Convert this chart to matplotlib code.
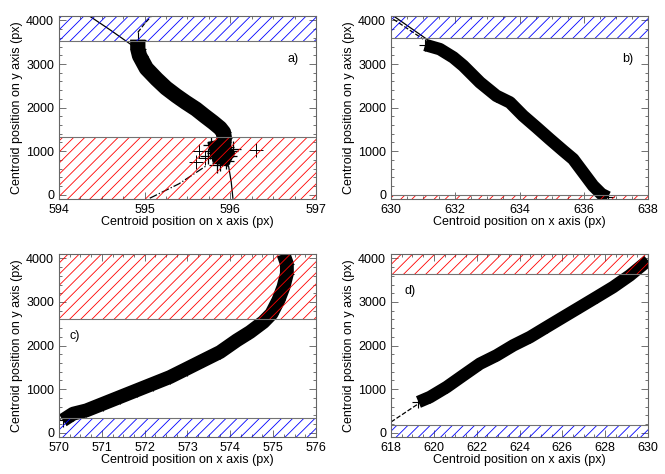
import matplotlib
matplotlib.use("Agg")
import matplotlib.pyplot as plt
from matplotlib.ticker import AutoMinorLocator, MultipleLocator

plt.rcParams['font.family'] = ['Liberation Sans', 'DejaVu Sans']
plt.rcParams['font.size'] = 9
plt.rcParams['hatch.linewidth'] = 0.6

# ---------------- data ----------------
# panel a)
a_x = [594.92, 594.92, 594.94, 595.02, 595.14, 595.25, 595.37, 595.48, 595.60, 595.70, 595.80, 595.88, 595.92, 595.93, 595.92, 595.88, 595.86]
a_y = [3560, 3350, 3190, 2900, 2654, 2450, 2271, 2120, 1966, 1810, 1660, 1530, 1430, 1300, 1124, 1000, 900]
a_blob_x = [595.78, 595.85, 595.95, 596.00, 595.82, 595.90, 595.98, 595.76, 595.88, 595.95, 595.84, 595.92, 596.03, 595.74]
a_blob_y = [1150, 1050, 1100, 1000, 950, 850, 900, 1000, 720, 780, 680, 1220, 1050, 880]
a_out_x = [596.30, 595.60, 595.64, 595.70]
a_out_y = [1020, 760, 1010, 850]
a_fit_top_x = [594.34, 594.60, 594.85]
a_fit_top_y = [4122, 3780, 3434]
a_fit_bot_x = [595.98, 596.01, 596.03]
a_fit_bot_y = [650, 300, -80]
a_dash_top_x = [594.92, 595.00, 595.10]
a_dash_top_y = [3725, 3930, 4145]
a_dash_bot_x = [595.06, 595.40, 595.72]
a_dash_bot_y = [-80, 250, 665]

# panel b)
b_x = [631.06, 631.52, 631.94, 632.25, 632.77, 633.28, 633.70, 634.11, 634.53, 634.94, 635.36, 635.67, 635.98, 636.29, 636.55, 636.75]
b_y = [3440, 3342, 3151, 2960, 2577, 2271, 2119, 1813, 1545, 1277, 1010, 818, 512, 206, 15, -60]
b_fit1_x = [630.07, 631.11]
b_fit1_y = [4107, 3572]
b_fit2_x = [630.07, 631.00]
b_fit2_y = [4030, 3572]

# panel c)
c_x = [570.09, 570.33, 570.64, 571.03, 571.42, 571.81, 572.20, 572.59, 572.98, 573.37, 573.76, 574.15, 574.46, 574.77, 574.96, 575.12, 575.24, 575.32, 575.32, 575.24]
c_y = [283, 436, 512, 665, 818, 971, 1124, 1277, 1468, 1660, 1851, 2119, 2310, 2539, 2730, 3036, 3342, 3648, 3877, 4100]
c_fit_x = [570.0, 570.3]
c_fit_y = [300, 440]

# panel d)
d_x = [619.28, 619.82, 620.60, 621.37, 622.15, 622.93, 623.71, 624.49, 625.26, 626.04, 626.82, 627.60, 628.37, 629.15, 630.00]
d_y = [704, 818, 1048, 1315, 1583, 1774, 2004, 2195, 2424, 2654, 2883, 3113, 3342, 3610, 3954]
d_fit_x = [618.0, 619.28]
d_fit_y = [245, 665]

# hatched bands (ymin, ymax)
a_blue = (3520, 4100)
a_red = (-100, 1330)
b_blue = (3590, 4100)
b_red = (-100, -15)
c_red = (2620, 4100)
c_blue = (-100, 330)
d_red = (3650, 4100)
d_blue = (-100, 170)

# ---------------- plotting ----------------
fig = plt.figure(figsize=(6.65, 4.74), dpi=100)
pos = {'a': [0.0887, 0.580, 0.3865, 0.386],
       'b': [0.588, 0.580, 0.3865, 0.386],
       'c': [0.0887, 0.078, 0.3865, 0.386],
       'd': [0.588, 0.078, 0.3865, 0.386]}


def setup(ax, xlim, xstep):
    ax.set_xlim(*xlim)
    ax.set_ylim(-100, 4100)
    ax.xaxis.set_major_locator(MultipleLocator(xstep))
    ax.yaxis.set_major_locator(MultipleLocator(1000))
    ax.xaxis.set_minor_locator(AutoMinorLocator(4))
    ax.yaxis.set_minor_locator(AutoMinorLocator(5))
    ax.tick_params(which='both', direction='in', top=True, right=True, color='0.35', width=0.6)
    ax.tick_params(which='major', length=5)
    ax.tick_params(which='minor', length=2.5)
    for s in ax.spines.values():
        s.set_color('0.4')
        s.set_linewidth(0.8)
        s.set_zorder(6)
    ax.set_xlabel('Centroid position on x axis (px)', labelpad=0)
    ax.set_ylabel('Centroid position on y axis (px)', labelpad=2)


def band(ax, lims, color):
    # hatch drawn on top of the data, like in the original
    ax.axhspan(lims[0], lims[1], facecolor='none', edgecolor=color, hatch='///', linewidth=0, zorder=5)
    for v in lims:
        if -100 < v < 4100:
            ax.axhline(v, color='0.45', lw=0.8, zorder=5)


def track(ax, x, y, lw=9):
    ax.plot(x, y, color='black', lw=lw, solid_capstyle='butt', solid_joinstyle='round', zorder=3)
    ax.plot(x, y, 'k+', ms=lw, mew=0.8, zorder=3)


# a)
ax = fig.add_axes(pos['a'])
setup(ax, (594, 597), 1)
band(ax, a_blue, 'blue')
band(ax, a_red, 'red')
track(ax, a_x, a_y, lw=11)
ax.plot(a_blob_x, a_blob_y, 'k+', ms=12, mew=0.9, zorder=3)
ax.fill([595.74, 595.93, 596.05, 595.97, 595.80], [1200, 1270, 950, 660, 750], color='black', zorder=3)
ax.plot(a_out_x, a_out_y, 'k+', ms=10, mew=0.7, zorder=3)
ax.plot(a_fit_top_x, a_fit_top_y, 'k-', lw=0.9, zorder=4)
ax.plot(a_fit_bot_x, a_fit_bot_y, 'k-', lw=0.9, zorder=4)
ax.plot(a_dash_top_x, a_dash_top_y, 'k--', lw=0.9, zorder=4)
ax.plot(a_dash_bot_x, a_dash_bot_y, 'k-.', lw=0.9, zorder=4)
ax.text(0.91, 0.765, 'a)', transform=ax.transAxes, ha='center', va='center')

# b)
ax = fig.add_axes(pos['b'])
setup(ax, (630, 638), 2)
band(ax, b_blue, 'blue')
band(ax, b_red, 'red')
track(ax, b_x, b_y, lw=9)
ax.plot(b_fit1_x, b_fit1_y, 'k-', lw=0.9, zorder=4)
ax.plot(b_fit2_x, b_fit2_y, 'k--', lw=0.9, zorder=4)
ax.text(0.92, 0.765, 'b)', transform=ax.transAxes, ha='center', va='center')

# c)
ax = fig.add_axes(pos['c'])
setup(ax, (570, 576), 1)
band(ax, c_red, 'red')
band(ax, c_blue, 'blue')
track(ax, c_x, c_y, lw=10)
ax.plot(c_fit_x, c_fit_y, 'k-', lw=0.9, zorder=4)
ax.text(0.06, 0.55, 'c)', transform=ax.transAxes, ha='center', va='center')

# d)
ax = fig.add_axes(pos['d'])
setup(ax, (618, 630), 2)
band(ax, d_red, 'red')
band(ax, d_blue, 'blue')
track(ax, d_x, d_y, lw=9)
ax.plot(d_fit_x, d_fit_y, 'k--', lw=0.9, zorder=4)
ax.text(0.075, 0.80, 'd)', transform=ax.transAxes, ha='center', va='center')

fig.savefig('out.png', dpi=100)
